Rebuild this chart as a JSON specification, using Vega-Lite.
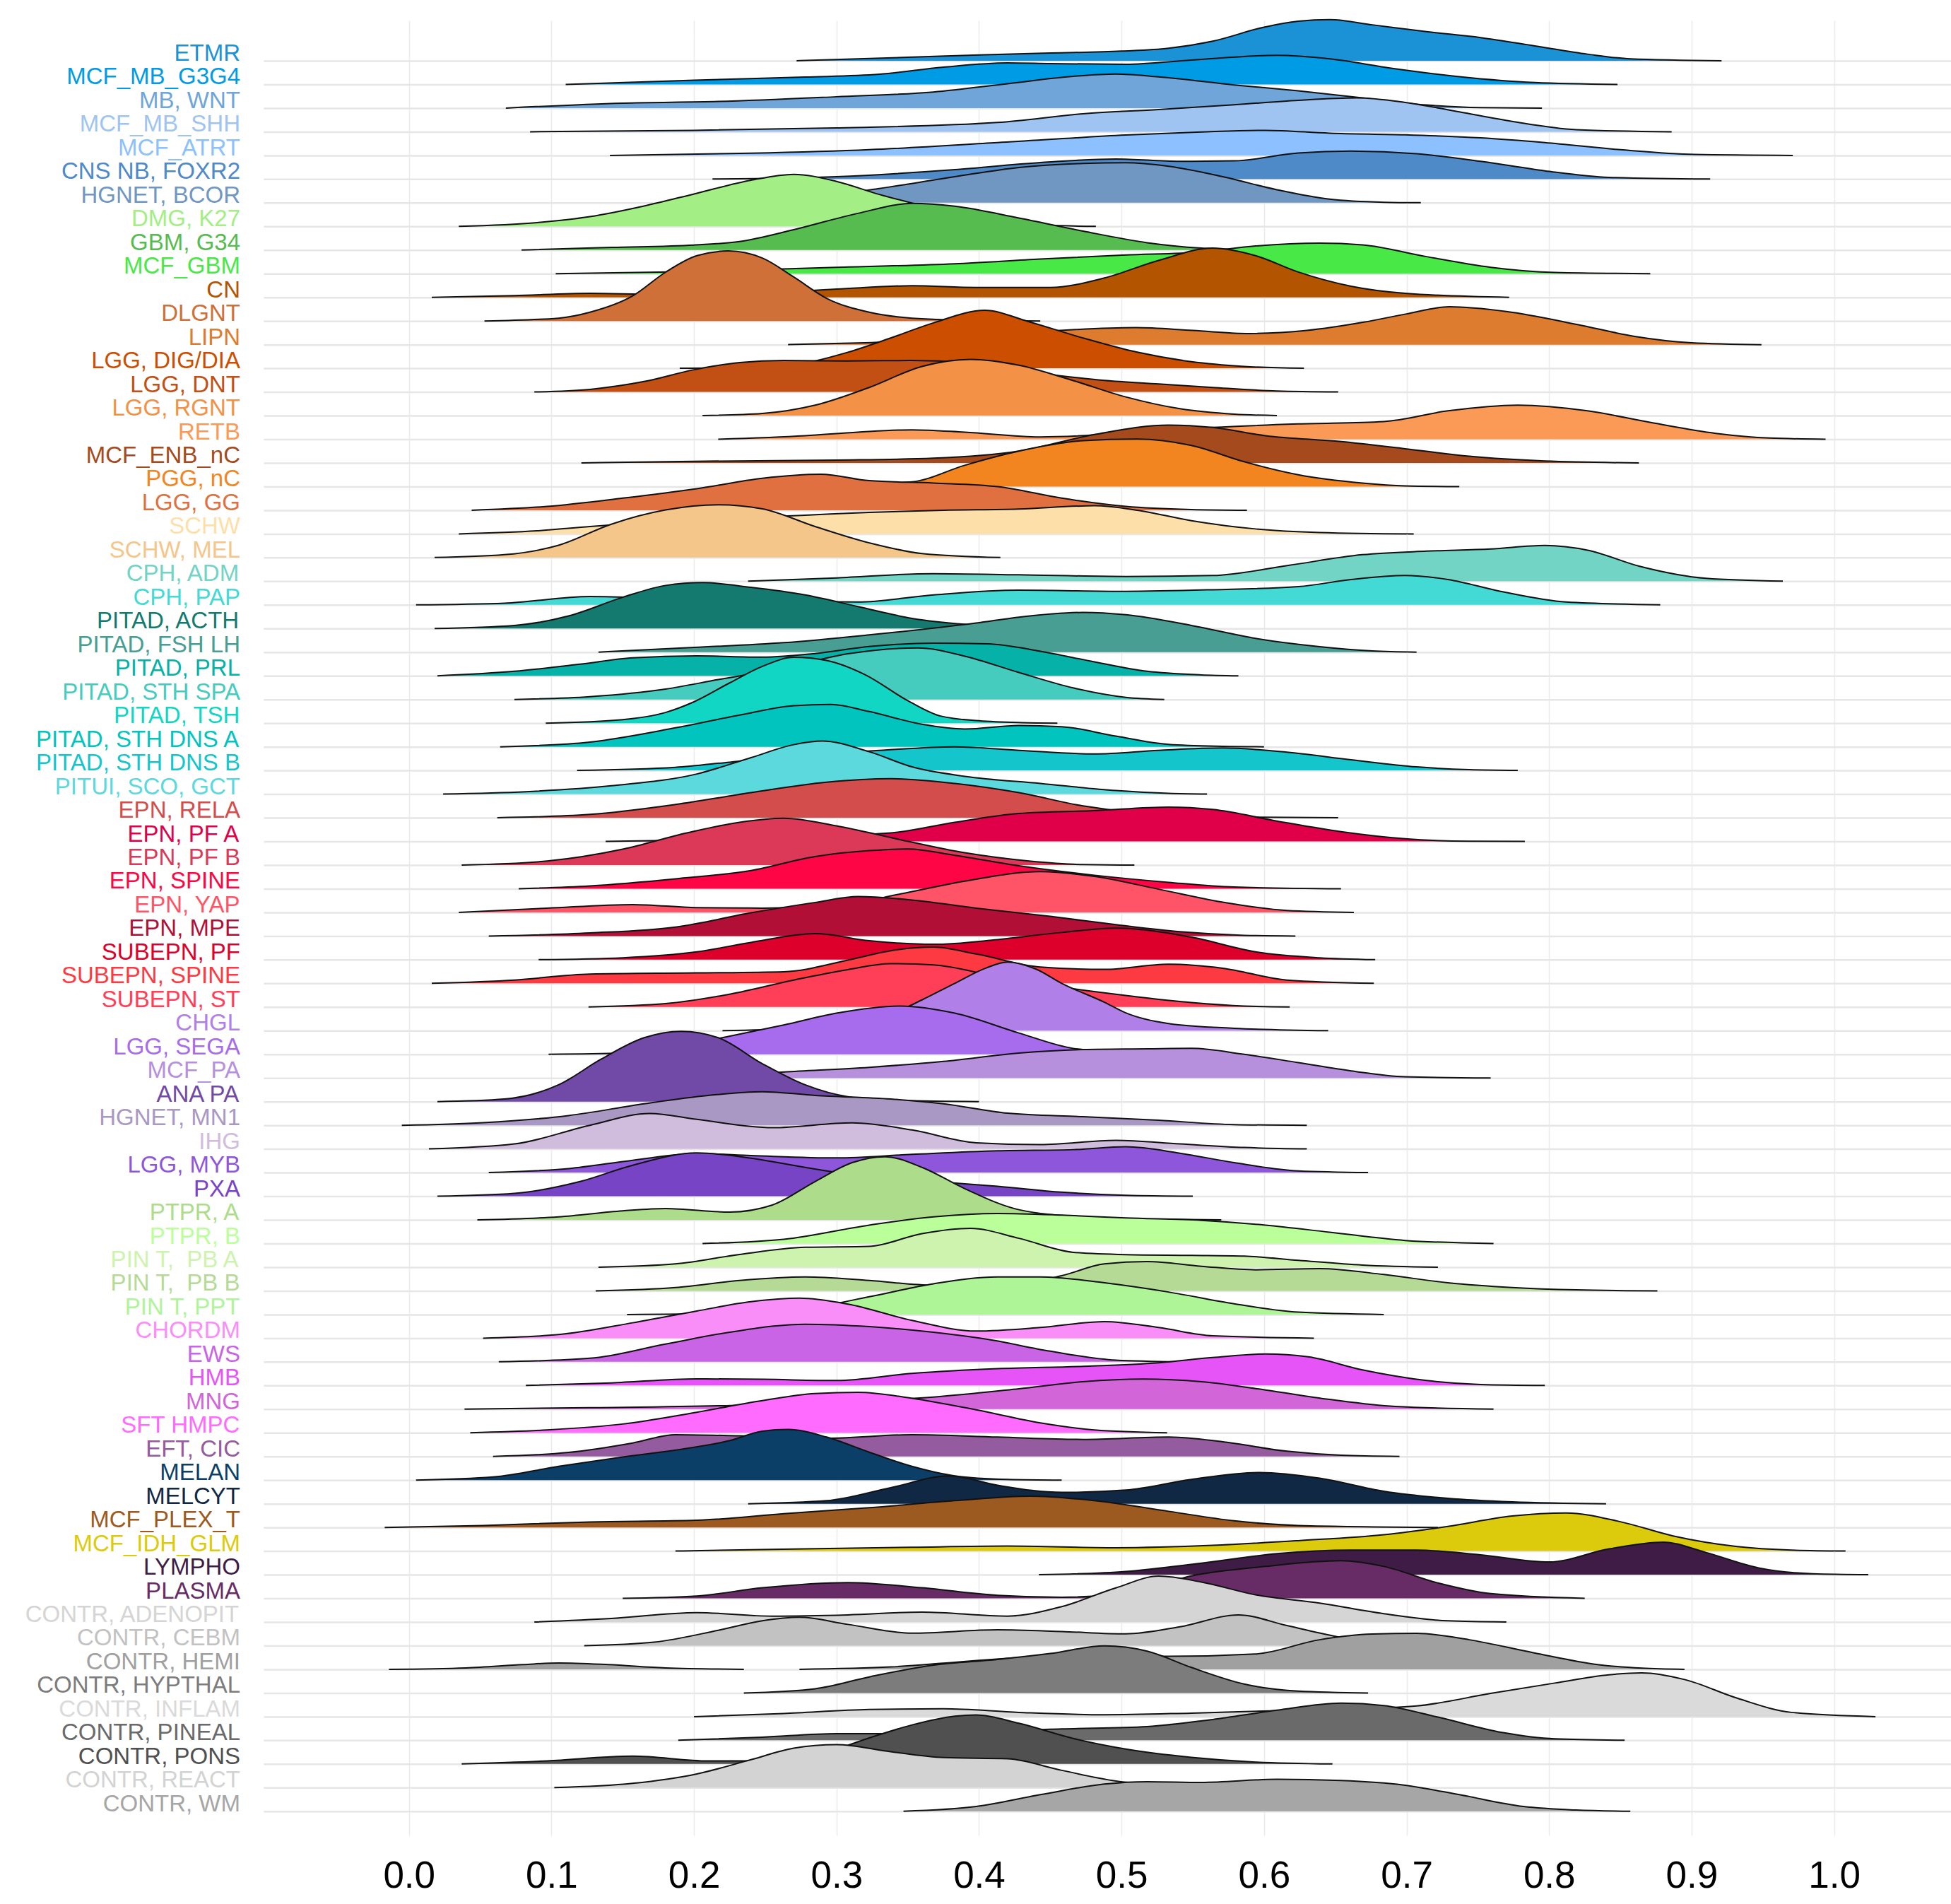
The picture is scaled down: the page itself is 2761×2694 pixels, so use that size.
{
"$schema":"https://vega.github.io/schema/vega-lite/v6.json",
"background":"white",
"padding":{"left":35,"top":26,"right":0,"bottom":0},
"autosize":{"type":"pad"},
"bounds":"flush",
"spacing":{"row":0.47,"column":0},
"data":{"values":[
{"g":"ETMR","x":0.272,"d":0},{"g":"ETMR","x":0.35,"d":0.15},{"g":"ETMR","x":0.4,"d":0.25},{"g":"ETMR","x":0.45,"d":0.33},{"g":"ETMR","x":0.5,"d":0.41},{"g":"ETMR","x":0.533,"d":0.53},{"g":"ETMR","x":0.564,"d":0.83},{"g":"ETMR","x":0.6,"d":1.42},{"g":"ETMR","x":0.624,"d":1.67},{"g":"ETMR","x":0.646,"d":1.74},{"g":"ETMR","x":0.676,"d":1.52},{"g":"ETMR","x":0.714,"d":1.23},{"g":"ETMR","x":0.752,"d":0.98},{"g":"ETMR","x":0.79,"d":0.63},{"g":"ETMR","x":0.827,"d":0.28},{"g":"ETMR","x":0.857,"d":0.08},{"g":"ETMR","x":0.921,"d":0},
{"g":"MCF_MB_G3G4","x":0.11,"d":0},{"g":"MCF_MB_G3G4","x":0.2,"d":0.18},{"g":"MCF_MB_G3G4","x":0.278,"d":0.31},{"g":"MCF_MB_G3G4","x":0.33,"d":0.43},{"g":"MCF_MB_G3G4","x":0.375,"d":0.73},{"g":"MCF_MB_G3G4","x":0.42,"d":0.91},{"g":"MCF_MB_G3G4","x":0.45,"d":0.88},{"g":"MCF_MB_G3G4","x":0.503,"d":0.85},{"g":"MCF_MB_G3G4","x":0.549,"d":1.03},{"g":"MCF_MB_G3G4","x":0.609,"d":1.23},{"g":"MCF_MB_G3G4","x":0.646,"d":1.08},{"g":"MCF_MB_G3G4","x":0.69,"d":0.68},{"g":"MCF_MB_G3G4","x":0.737,"d":0.33},{"g":"MCF_MB_G3G4","x":0.79,"d":0.08},{"g":"MCF_MB_G3G4","x":0.848,"d":0},
{"g":"MB, WNT","x":0.068,"d":0},{"g":"MB, WNT","x":0.15,"d":0.21},{"g":"MB, WNT","x":0.217,"d":0.28},{"g":"MB, WNT","x":0.3,"d":0.48},{"g":"MB, WNT","x":0.368,"d":0.68},{"g":"MB, WNT","x":0.42,"d":1.03},{"g":"MB, WNT","x":0.466,"d":1.34},{"g":"MB, WNT","x":0.496,"d":1.44},{"g":"MB, WNT","x":0.526,"d":1.32},{"g":"MB, WNT","x":0.579,"d":0.98},{"g":"MB, WNT","x":0.624,"d":0.73},{"g":"MB, WNT","x":0.669,"d":0.43},{"g":"MB, WNT","x":0.714,"d":0.13},{"g":"MB, WNT","x":0.752,"d":0.02},{"g":"MB, WNT","x":0.795,"d":0},
{"g":"MCF_MB_SHH","x":0.085,"d":0},{"g":"MCF_MB_SHH","x":0.2,"d":0.06},{"g":"MCF_MB_SHH","x":0.3,"d":0.16},{"g":"MCF_MB_SHH","x":0.413,"d":0.39},{"g":"MCF_MB_SHH","x":0.473,"d":0.76},{"g":"MCF_MB_SHH","x":0.526,"d":0.94},{"g":"MCF_MB_SHH","x":0.579,"d":1.14},{"g":"MCF_MB_SHH","x":0.624,"d":1.33},{"g":"MCF_MB_SHH","x":0.665,"d":1.43},{"g":"MCF_MB_SHH","x":0.699,"d":1.24},{"g":"MCF_MB_SHH","x":0.737,"d":0.84},{"g":"MCF_MB_SHH","x":0.774,"d":0.44},{"g":"MCF_MB_SHH","x":0.819,"d":0.09},{"g":"MCF_MB_SHH","x":0.886,"d":0},
{"g":"MCF_ATRT","x":0.141,"d":0},{"g":"MCF_ATRT","x":0.24,"d":0.09},{"g":"MCF_ATRT","x":0.323,"d":0.24},{"g":"MCF_ATRT","x":0.413,"d":0.54},{"g":"MCF_ATRT","x":0.503,"d":0.86},{"g":"MCF_ATRT","x":0.556,"d":0.99},{"g":"MCF_ATRT","x":0.601,"d":1.06},{"g":"MCF_ATRT","x":0.646,"d":0.94},{"g":"MCF_ATRT","x":0.699,"d":0.87},{"g":"MCF_ATRT","x":0.752,"d":0.74},{"g":"MCF_ATRT","x":0.797,"d":0.54},{"g":"MCF_ATRT","x":0.85,"d":0.24},{"g":"MCF_ATRT","x":0.902,"d":0.04},{"g":"MCF_ATRT","x":0.971,"d":0},
{"g":"CNS NB, FOXR2","x":0.213,"d":0},{"g":"CNS NB, FOXR2","x":0.3,"d":0.1},{"g":"CNS NB, FOXR2","x":0.383,"d":0.4},{"g":"CNS NB, FOXR2","x":0.443,"d":0.7},{"g":"CNS NB, FOXR2","x":0.496,"d":0.85},{"g":"CNS NB, FOXR2","x":0.541,"d":0.75},{"g":"CNS NB, FOXR2","x":0.579,"d":0.77},{"g":"CNS NB, FOXR2","x":0.624,"d":1.1},{"g":"CNS NB, FOXR2","x":0.661,"d":1.18},{"g":"CNS NB, FOXR2","x":0.707,"d":1.07},{"g":"CNS NB, FOXR2","x":0.752,"d":0.75},{"g":"CNS NB, FOXR2","x":0.797,"d":0.35},{"g":"CNS NB, FOXR2","x":0.842,"d":0.07},{"g":"CNS NB, FOXR2","x":0.913,"d":0},
{"g":"HGNET, BCOR","x":0.21,"d":0},{"g":"HGNET, BCOR","x":0.25,"d":0.1},{"g":"HGNET, BCOR","x":0.3,"d":0.35},{"g":"HGNET, BCOR","x":0.33,"d":0.6},{"g":"HGNET, BCOR","x":0.383,"d":1.1},{"g":"HGNET, BCOR","x":0.428,"d":1.49},{"g":"HGNET, BCOR","x":0.473,"d":1.66},{"g":"HGNET, BCOR","x":0.503,"d":1.69},{"g":"HGNET, BCOR","x":0.533,"d":1.54},{"g":"HGNET, BCOR","x":0.571,"d":1.1},{"g":"HGNET, BCOR","x":0.609,"d":0.55},{"g":"HGNET, BCOR","x":0.646,"d":0.15},{"g":"HGNET, BCOR","x":0.684,"d":0.02},{"g":"HGNET, BCOR","x":0.71,"d":0},
{"g":"DMG, K27","x":0.035,"d":0},{"g":"DMG, K27","x":0.09,"d":0.16},{"g":"DMG, K27","x":0.127,"d":0.41},{"g":"DMG, K27","x":0.165,"d":0.86},{"g":"DMG, K27","x":0.202,"d":1.4},{"g":"DMG, K27","x":0.24,"d":1.95},{"g":"DMG, K27","x":0.27,"d":2.2},{"g":"DMG, K27","x":0.3,"d":1.9},{"g":"DMG, K27","x":0.33,"d":1.35},{"g":"DMG, K27","x":0.368,"d":0.76},{"g":"DMG, K27","x":0.398,"d":0.31},{"g":"DMG, K27","x":0.428,"d":0.08},{"g":"DMG, K27","x":0.482,"d":0},
{"g":"GBM, G34","x":0.079,"d":0},{"g":"GBM, G34","x":0.142,"d":0.11},{"g":"GBM, G34","x":0.2,"d":0.21},{"g":"GBM, G34","x":0.232,"d":0.36},{"g":"GBM, G34","x":0.27,"d":0.86},{"g":"GBM, G34","x":0.315,"d":1.55},{"g":"GBM, G34","x":0.353,"d":1.97},{"g":"GBM, G34","x":0.383,"d":1.85},{"g":"GBM, G34","x":0.428,"d":1.35},{"g":"GBM, G34","x":0.473,"d":0.8},{"g":"GBM, G34","x":0.518,"d":0.31},{"g":"GBM, G34","x":0.556,"d":0.08},{"g":"GBM, G34","x":0.594,"d":0},
{"g":"MCF_GBM","x":0.103,"d":0},{"g":"MCF_GBM","x":0.2,"d":0.09},{"g":"MCF_GBM","x":0.3,"d":0.27},{"g":"MCF_GBM","x":0.383,"d":0.42},{"g":"MCF_GBM","x":0.443,"d":0.62},{"g":"MCF_GBM","x":0.503,"d":0.79},{"g":"MCF_GBM","x":0.556,"d":0.92},{"g":"MCF_GBM","x":0.594,"d":1.17},{"g":"MCF_GBM","x":0.639,"d":1.29},{"g":"MCF_GBM","x":0.669,"d":1.22},{"g":"MCF_GBM","x":0.714,"d":0.72},{"g":"MCF_GBM","x":0.759,"d":0.27},{"g":"MCF_GBM","x":0.804,"d":0.05},{"g":"MCF_GBM","x":0.871,"d":0},
{"g":"CN","x":0.016,"d":0},{"g":"CN","x":0.074,"d":0.07},{"g":"CN","x":0.127,"d":0.17},{"g":"CN","x":0.172,"d":0.13},{"g":"CN","x":0.24,"d":0.17},{"g":"CN","x":0.3,"d":0.35},{"g":"CN","x":0.353,"d":0.49},{"g":"CN","x":0.398,"d":0.42},{"g":"CN","x":0.45,"d":0.42},{"g":"CN","x":0.488,"d":0.82},{"g":"CN","x":0.526,"d":1.56},{"g":"CN","x":0.564,"d":2.08},{"g":"CN","x":0.594,"d":1.76},{"g":"CN","x":0.624,"d":1.07},{"g":"CN","x":0.661,"d":0.47},{"g":"CN","x":0.699,"d":0.17},{"g":"CN","x":0.772,"d":0},
{"g":"DLGNT","x":0.053,"d":0},{"g":"DLGNT","x":0.105,"d":0.12},{"g":"DLGNT","x":0.127,"d":0.37},{"g":"DLGNT","x":0.157,"d":1.06},{"g":"DLGNT","x":0.18,"d":2.06},{"g":"DLGNT","x":0.202,"d":2.76},{"g":"DLGNT","x":0.224,"d":2.96},{"g":"DLGNT","x":0.248,"d":2.66},{"g":"DLGNT","x":0.27,"d":1.86},{"g":"DLGNT","x":0.293,"d":0.96},{"g":"DLGNT","x":0.323,"d":0.37},{"g":"DLGNT","x":0.353,"d":0.12},{"g":"DLGNT","x":0.4,"d":0.02},{"g":"DLGNT","x":0.443,"d":0},
{"g":"LIPN","x":0.266,"d":0},{"g":"LIPN","x":0.32,"d":0.08},{"g":"LIPN","x":0.37,"d":0.2},{"g":"LIPN","x":0.43,"d":0.5},{"g":"LIPN","x":0.51,"d":0.72},{"g":"LIPN","x":0.55,"d":0.6},{"g":"LIPN","x":0.59,"d":0.47},{"g":"LIPN","x":0.63,"d":0.6},{"g":"LIPN","x":0.67,"d":0.95},{"g":"LIPN","x":0.7,"d":1.3},{"g":"LIPN","x":0.73,"d":1.6},{"g":"LIPN","x":0.77,"d":1.4},{"g":"LIPN","x":0.82,"d":0.85},{"g":"LIPN","x":0.86,"d":0.35},{"g":"LIPN","x":0.9,"d":0.08},{"g":"LIPN","x":0.949,"d":0},
{"g":"LGG, DIG/DIA","x":0.19,"d":0},{"g":"LGG, DIG/DIA","x":0.24,"d":0.05},{"g":"LGG, DIG/DIA","x":0.278,"d":0.23},{"g":"LGG, DIG/DIA","x":0.308,"d":0.68},{"g":"LGG, DIG/DIA","x":0.338,"d":1.28},{"g":"LGG, DIG/DIA","x":0.368,"d":1.92},{"g":"LGG, DIG/DIA","x":0.404,"d":2.45},{"g":"LGG, DIG/DIA","x":0.435,"d":1.97},{"g":"LGG, DIG/DIA","x":0.473,"d":1.28},{"g":"LGG, DIG/DIA","x":0.511,"d":0.68},{"g":"LGG, DIG/DIA","x":0.549,"d":0.28},{"g":"LGG, DIG/DIA","x":0.586,"d":0.08},{"g":"LGG, DIG/DIA","x":0.628,"d":0},
{"g":"LGG, DNT","x":0.088,"d":0},{"g":"LGG, DNT","x":0.127,"d":0.11},{"g":"LGG, DNT","x":0.165,"d":0.44},{"g":"LGG, DNT","x":0.2,"d":0.94},{"g":"LGG, DNT","x":0.232,"d":1.24},{"g":"LGG, DNT","x":0.263,"d":1.33},{"g":"LGG, DNT","x":0.308,"d":1.31},{"g":"LGG, DNT","x":0.353,"d":1.33},{"g":"LGG, DNT","x":0.39,"d":1.24},{"g":"LGG, DNT","x":0.443,"d":0.79},{"g":"LGG, DNT","x":0.488,"d":0.49},{"g":"LGG, DNT","x":0.526,"d":0.34},{"g":"LGG, DNT","x":0.564,"d":0.19},{"g":"LGG, DNT","x":0.609,"d":0.04},{"g":"LGG, DNT","x":0.652,"d":0},
{"g":"LGG, RGNT","x":0.206,"d":0},{"g":"LGG, RGNT","x":0.248,"d":0.09},{"g":"LGG, RGNT","x":0.285,"d":0.44},{"g":"LGG, RGNT","x":0.323,"d":1.19},{"g":"LGG, RGNT","x":0.36,"d":2.08},{"g":"LGG, RGNT","x":0.394,"d":2.38},{"g":"LGG, RGNT","x":0.428,"d":2.13},{"g":"LGG, RGNT","x":0.466,"d":1.48},{"g":"LGG, RGNT","x":0.503,"d":0.79},{"g":"LGG, RGNT","x":0.541,"d":0.29},{"g":"LGG, RGNT","x":0.579,"d":0.06},{"g":"LGG, RGNT","x":0.609,"d":0},
{"g":"RETB","x":0.217,"d":0},{"g":"RETB","x":0.278,"d":0.15},{"g":"RETB","x":0.315,"d":0.3},{"g":"RETB","x":0.353,"d":0.4},{"g":"RETB","x":0.39,"d":0.3},{"g":"RETB","x":0.443,"d":0.1},{"g":"RETB","x":0.503,"d":0.25},{"g":"RETB","x":0.564,"d":0.5},{"g":"RETB","x":0.624,"d":0.65},{"g":"RETB","x":0.684,"d":0.75},{"g":"RETB","x":0.729,"d":1.2},{"g":"RETB","x":0.778,"d":1.44},{"g":"RETB","x":0.827,"d":1.2},{"g":"RETB","x":0.872,"d":0.7},{"g":"RETB","x":0.917,"d":0.25},{"g":"RETB","x":0.955,"d":0.05},{"g":"RETB","x":0.994,"d":0},
{"g":"MCF_ENB_nC","x":0.121,"d":0},{"g":"MCF_ENB_nC","x":0.2,"d":0.07},{"g":"MCF_ENB_nC","x":0.3,"d":0.12},{"g":"MCF_ENB_nC","x":0.368,"d":0.2},{"g":"MCF_ENB_nC","x":0.428,"d":0.5},{"g":"MCF_ENB_nC","x":0.481,"d":1.2},{"g":"MCF_ENB_nC","x":0.533,"d":1.6},{"g":"MCF_ENB_nC","x":0.564,"d":1.5},{"g":"MCF_ENB_nC","x":0.601,"d":1.15},{"g":"MCF_ENB_nC","x":0.654,"d":0.9},{"g":"MCF_ENB_nC","x":0.699,"d":0.6},{"g":"MCF_ENB_nC","x":0.744,"d":0.28},{"g":"MCF_ENB_nC","x":0.797,"d":0.08},{"g":"MCF_ENB_nC","x":0.863,"d":0},
{"g":"PGG, nC","x":0.25,"d":0},{"g":"PGG, nC","x":0.3,"d":0.05},{"g":"PGG, nC","x":0.353,"d":0.2},{"g":"PGG, nC","x":0.39,"d":0.9},{"g":"PGG, nC","x":0.428,"d":1.5},{"g":"PGG, nC","x":0.473,"d":1.94},{"g":"PGG, nC","x":0.511,"d":2.01},{"g":"PGG, nC","x":0.549,"d":1.74},{"g":"PGG, nC","x":0.586,"d":1.05},{"g":"PGG, nC","x":0.624,"d":0.5},{"g":"PGG, nC","x":0.669,"d":0.15},{"g":"PGG, nC","x":0.699,"d":0.03},{"g":"PGG, nC","x":0.737,"d":0},
{"g":"LGG, GG","x":0.044,"d":0},{"g":"LGG, GG","x":0.097,"d":0.16},{"g":"LGG, GG","x":0.15,"d":0.51},{"g":"LGG, GG","x":0.202,"d":0.91},{"g":"LGG, GG","x":0.248,"d":1.35},{"g":"LGG, GG","x":0.289,"d":1.52},{"g":"LGG, GG","x":0.323,"d":1.25},{"g":"LGG, GG","x":0.368,"d":1.15},{"g":"LGG, GG","x":0.413,"d":1.0},{"g":"LGG, GG","x":0.458,"d":0.51},{"g":"LGG, GG","x":0.503,"d":0.16},{"g":"LGG, GG","x":0.549,"d":0.03},{"g":"LGG, GG","x":0.588,"d":0},
{"g":"SCHW","x":0.035,"d":0},{"g":"SCHW","x":0.09,"d":0.13},{"g":"SCHW","x":0.127,"d":0.31},{"g":"SCHW","x":0.2,"d":0.6},{"g":"SCHW","x":0.278,"d":0.79},{"g":"SCHW","x":0.323,"d":0.91},{"g":"SCHW","x":0.375,"d":1.0},{"g":"SCHW","x":0.428,"d":1.05},{"g":"SCHW","x":0.481,"d":1.19},{"g":"SCHW","x":0.511,"d":1.0},{"g":"SCHW","x":0.549,"d":0.56},{"g":"SCHW","x":0.594,"d":0.21},{"g":"SCHW","x":0.639,"d":0.06},{"g":"SCHW","x":0.705,"d":0},
{"g":"SCHW, MEL","x":0.018,"d":0},{"g":"SCHW, MEL","x":0.067,"d":0.12},{"g":"SCHW, MEL","x":0.105,"d":0.52},{"g":"SCHW, MEL","x":0.142,"d":1.41},{"g":"SCHW, MEL","x":0.18,"d":2.01},{"g":"SCHW, MEL","x":0.217,"d":2.23},{"g":"SCHW, MEL","x":0.248,"d":2.06},{"g":"SCHW, MEL","x":0.285,"d":1.31},{"g":"SCHW, MEL","x":0.323,"d":0.62},{"g":"SCHW, MEL","x":0.36,"d":0.17},{"g":"SCHW, MEL","x":0.415,"d":0},
{"g":"CPH, ADM","x":0.238,"d":0},{"g":"CPH, ADM","x":0.3,"d":0.14},{"g":"CPH, ADM","x":0.368,"d":0.32},{"g":"CPH, ADM","x":0.428,"d":0.27},{"g":"CPH, ADM","x":0.503,"d":0.2},{"g":"CPH, ADM","x":0.564,"d":0.24},{"g":"CPH, ADM","x":0.617,"d":0.67},{"g":"CPH, ADM","x":0.669,"d":1.12},{"g":"CPH, ADM","x":0.714,"d":1.27},{"g":"CPH, ADM","x":0.759,"d":1.36},{"g":"CPH, ADM","x":0.797,"d":1.51},{"g":"CPH, ADM","x":0.827,"d":1.31},{"g":"CPH, ADM","x":0.864,"d":0.62},{"g":"CPH, ADM","x":0.91,"d":0.12},{"g":"CPH, ADM","x":0.964,"d":0},
{"g":"CPH, PAP","x":0.005,"d":0},{"g":"CPH, PAP","x":0.067,"d":0.07},{"g":"CPH, PAP","x":0.127,"d":0.35},{"g":"CPH, PAP","x":0.18,"d":0.27},{"g":"CPH, PAP","x":0.24,"d":0.17},{"g":"CPH, PAP","x":0.315,"d":0.12},{"g":"CPH, PAP","x":0.368,"d":0.42},{"g":"CPH, PAP","x":0.428,"d":0.62},{"g":"CPH, PAP","x":0.503,"d":0.57},{"g":"CPH, PAP","x":0.564,"d":0.64},{"g":"CPH, PAP","x":0.624,"d":0.77},{"g":"CPH, PAP","x":0.661,"d":1.07},{"g":"CPH, PAP","x":0.699,"d":1.24},{"g":"CPH, PAP","x":0.729,"d":1.07},{"g":"CPH, PAP","x":0.766,"d":0.57},{"g":"CPH, PAP","x":0.812,"d":0.12},{"g":"CPH, PAP","x":0.878,"d":0},
{"g":"PITAD, ACTH","x":0.018,"d":0},{"g":"PITAD, ACTH","x":0.074,"d":0.13},{"g":"PITAD, ACTH","x":0.112,"d":0.53},{"g":"PITAD, ACTH","x":0.15,"d":1.32},{"g":"PITAD, ACTH","x":0.18,"d":1.82},{"g":"PITAD, ACTH","x":0.206,"d":1.94},{"g":"PITAD, ACTH","x":0.24,"d":1.74},{"g":"PITAD, ACTH","x":0.278,"d":1.42},{"g":"PITAD, ACTH","x":0.315,"d":0.93},{"g":"PITAD, ACTH","x":0.353,"d":0.43},{"g":"PITAD, ACTH","x":0.39,"d":0.18},{"g":"PITAD, ACTH","x":0.43,"d":0.08},{"g":"PITAD, ACTH","x":0.5,"d":0.02},{"g":"PITAD, ACTH","x":0.56,"d":0},
{"g":"PITAD, FSH LH","x":0.133,"d":0},{"g":"PITAD, FSH LH","x":0.2,"d":0.2},{"g":"PITAD, FSH LH","x":0.263,"d":0.4},{"g":"PITAD, FSH LH","x":0.323,"d":0.73},{"g":"PITAD, FSH LH","x":0.398,"d":1.23},{"g":"PITAD, FSH LH","x":0.428,"d":1.48},{"g":"PITAD, FSH LH","x":0.473,"d":1.68},{"g":"PITAD, FSH LH","x":0.503,"d":1.58},{"g":"PITAD, FSH LH","x":0.549,"d":1.13},{"g":"PITAD, FSH LH","x":0.594,"d":0.58},{"g":"PITAD, FSH LH","x":0.639,"d":0.23},{"g":"PITAD, FSH LH","x":0.676,"d":0.05},{"g":"PITAD, FSH LH","x":0.707,"d":0},
{"g":"PITAD, PRL","x":0.02,"d":0},{"g":"PITAD, PRL","x":0.074,"d":0.19},{"g":"PITAD, PRL","x":0.12,"d":0.49},{"g":"PITAD, PRL","x":0.157,"d":0.76},{"g":"PITAD, PRL","x":0.202,"d":0.84},{"g":"PITAD, PRL","x":0.248,"d":0.79},{"g":"PITAD, PRL","x":0.285,"d":0.94},{"g":"PITAD, PRL","x":0.323,"d":1.24},{"g":"PITAD, PRL","x":0.368,"d":1.38},{"g":"PITAD, PRL","x":0.406,"d":1.35},{"g":"PITAD, PRL","x":0.443,"d":1.04},{"g":"PITAD, PRL","x":0.481,"d":0.59},{"g":"PITAD, PRL","x":0.518,"d":0.19},{"g":"PITAD, PRL","x":0.556,"d":0.04},{"g":"PITAD, PRL","x":0.582,"d":0},
{"g":"PITAD, STH SPA","x":0.074,"d":0},{"g":"PITAD, STH SPA","x":0.127,"d":0.12},{"g":"PITAD, STH SPA","x":0.18,"d":0.44},{"g":"PITAD, STH SPA","x":0.217,"d":0.84},{"g":"PITAD, STH SPA","x":0.263,"d":1.33},{"g":"PITAD, STH SPA","x":0.308,"d":1.93},{"g":"PITAD, STH SPA","x":0.357,"d":2.18},{"g":"PITAD, STH SPA","x":0.39,"d":1.83},{"g":"PITAD, STH SPA","x":0.428,"d":1.14},{"g":"PITAD, STH SPA","x":0.466,"d":0.49},{"g":"PITAD, STH SPA","x":0.503,"d":0.09},{"g":"PITAD, STH SPA","x":0.53,"d":0},
{"g":"PITAD, TSH","x":0.096,"d":0},{"g":"PITAD, TSH","x":0.15,"d":0.15},{"g":"PITAD, TSH","x":0.18,"d":0.45},{"g":"PITAD, TSH","x":0.2,"d":0.9},{"g":"PITAD, TSH","x":0.225,"d":1.7},{"g":"PITAD, TSH","x":0.248,"d":2.4},{"g":"PITAD, TSH","x":0.27,"d":2.78},{"g":"PITAD, TSH","x":0.293,"d":2.65},{"g":"PITAD, TSH","x":0.32,"d":2.05},{"g":"PITAD, TSH","x":0.35,"d":0.95},{"g":"PITAD, TSH","x":0.373,"d":0.3},{"g":"PITAD, TSH","x":0.4,"d":0.1},{"g":"PITAD, TSH","x":0.43,"d":0.02},{"g":"PITAD, TSH","x":0.455,"d":0},
{"g":"PITAD, STH DNS A","x":0.064,"d":0},{"g":"PITAD, STH DNS A","x":0.127,"d":0.2},{"g":"PITAD, STH DNS A","x":0.187,"d":0.8},{"g":"PITAD, STH DNS A","x":0.232,"d":1.34},{"g":"PITAD, STH DNS A","x":0.27,"d":1.74},{"g":"PITAD, STH DNS A","x":0.296,"d":1.79},{"g":"PITAD, STH DNS A","x":0.323,"d":1.49},{"g":"PITAD, STH DNS A","x":0.36,"d":0.95},{"g":"PITAD, STH DNS A","x":0.39,"d":0.75},{"g":"PITAD, STH DNS A","x":0.428,"d":0.9},{"g":"PITAD, STH DNS A","x":0.458,"d":0.85},{"g":"PITAD, STH DNS A","x":0.496,"d":0.45},{"g":"PITAD, STH DNS A","x":0.533,"d":0.1},{"g":"PITAD, STH DNS A","x":0.571,"d":0.02},{"g":"PITAD, STH DNS A","x":0.6,"d":0},
{"g":"PITAD, STH DNS B","x":0.118,"d":0},{"g":"PITAD, STH DNS B","x":0.187,"d":0.13},{"g":"PITAD, STH DNS B","x":0.225,"d":0.35},{"g":"PITAD, STH DNS B","x":0.278,"d":0.65},{"g":"PITAD, STH DNS B","x":0.33,"d":0.85},{"g":"PITAD, STH DNS B","x":0.383,"d":1.0},{"g":"PITAD, STH DNS B","x":0.428,"d":0.85},{"g":"PITAD, STH DNS B","x":0.481,"d":0.7},{"g":"PITAD, STH DNS B","x":0.526,"d":0.85},{"g":"PITAD, STH DNS B","x":0.571,"d":0.95},{"g":"PITAD, STH DNS B","x":0.616,"d":0.77},{"g":"PITAD, STH DNS B","x":0.661,"d":0.45},{"g":"PITAD, STH DNS B","x":0.707,"d":0.15},{"g":"PITAD, STH DNS B","x":0.744,"d":0.03},{"g":"PITAD, STH DNS B","x":0.778,"d":0},
{"g":"PITUI, SCO, GCT","x":0.024,"d":0},{"g":"PITUI, SCO, GCT","x":0.082,"d":0.1},{"g":"PITUI, SCO, GCT","x":0.142,"d":0.35},{"g":"PITUI, SCO, GCT","x":0.202,"d":0.85},{"g":"PITUI, SCO, GCT","x":0.24,"d":1.54},{"g":"PITUI, SCO, GCT","x":0.27,"d":2.09},{"g":"PITUI, SCO, GCT","x":0.29,"d":2.24},{"g":"PITUI, SCO, GCT","x":0.323,"d":1.79},{"g":"PITUI, SCO, GCT","x":0.353,"d":1.15},{"g":"PITUI, SCO, GCT","x":0.39,"d":0.75},{"g":"PITUI, SCO, GCT","x":0.443,"d":0.45},{"g":"PITUI, SCO, GCT","x":0.496,"d":0.15},{"g":"PITUI, SCO, GCT","x":0.533,"d":0.03},{"g":"PITUI, SCO, GCT","x":0.56,"d":0},
{"g":"EPN, RELA","x":0.062,"d":0},{"g":"EPN, RELA","x":0.127,"d":0.14},{"g":"EPN, RELA","x":0.187,"d":0.56},{"g":"EPN, RELA","x":0.24,"d":1.06},{"g":"EPN, RELA","x":0.293,"d":1.5},{"g":"EPN, RELA","x":0.338,"d":1.65},{"g":"EPN, RELA","x":0.383,"d":1.45},{"g":"EPN, RELA","x":0.428,"d":1.06},{"g":"EPN, RELA","x":0.473,"d":0.5},{"g":"EPN, RELA","x":0.518,"d":0.16},{"g":"EPN, RELA","x":0.564,"d":0.04},{"g":"EPN, RELA","x":0.652,"d":0},
{"g":"EPN, PF A","x":0.138,"d":0},{"g":"EPN, PF A","x":0.202,"d":0.06},{"g":"EPN, PF A","x":0.278,"d":0.21},{"g":"EPN, PF A","x":0.338,"d":0.36},{"g":"EPN, PF A","x":0.383,"d":0.81},{"g":"EPN, PF A","x":0.428,"d":1.18},{"g":"EPN, PF A","x":0.481,"d":1.3},{"g":"EPN, PF A","x":0.533,"d":1.45},{"g":"EPN, PF A","x":0.564,"d":1.35},{"g":"EPN, PF A","x":0.609,"d":0.86},{"g":"EPN, PF A","x":0.654,"d":0.41},{"g":"EPN, PF A","x":0.699,"d":0.11},{"g":"EPN, PF A","x":0.744,"d":0.01},{"g":"EPN, PF A","x":0.783,"d":0},
{"g":"EPN, PF B","x":0.037,"d":0},{"g":"EPN, PF B","x":0.097,"d":0.17},{"g":"EPN, PF B","x":0.15,"d":0.67},{"g":"EPN, PF B","x":0.195,"d":1.36},{"g":"EPN, PF B","x":0.232,"d":1.81},{"g":"EPN, PF B","x":0.263,"d":1.98},{"g":"EPN, PF B","x":0.3,"d":1.66},{"g":"EPN, PF B","x":0.345,"d":1.07},{"g":"EPN, PF B","x":0.39,"d":0.52},{"g":"EPN, PF B","x":0.435,"d":0.17},{"g":"EPN, PF B","x":0.473,"d":0.02},{"g":"EPN, PF B","x":0.509,"d":0},
{"g":"EPN, SPINE","x":0.077,"d":0},{"g":"EPN, SPINE","x":0.127,"d":0.12},{"g":"EPN, SPINE","x":0.187,"d":0.42},{"g":"EPN, SPINE","x":0.24,"d":0.77},{"g":"EPN, SPINE","x":0.285,"d":1.36},{"g":"EPN, SPINE","x":0.323,"d":1.61},{"g":"EPN, SPINE","x":0.35,"d":1.68},{"g":"EPN, SPINE","x":0.383,"d":1.41},{"g":"EPN, SPINE","x":0.428,"d":0.97},{"g":"EPN, SPINE","x":0.481,"d":0.57},{"g":"EPN, SPINE","x":0.533,"d":0.27},{"g":"EPN, SPINE","x":0.579,"d":0.07},{"g":"EPN, SPINE","x":0.654,"d":0},
{"g":"EPN, YAP","x":0.035,"d":0},{"g":"EPN, YAP","x":0.097,"d":0.18},{"g":"EPN, YAP","x":0.157,"d":0.33},{"g":"EPN, YAP","x":0.202,"d":0.2},{"g":"EPN, YAP","x":0.248,"d":0.18},{"g":"EPN, YAP","x":0.3,"d":0.28},{"g":"EPN, YAP","x":0.345,"d":0.78},{"g":"EPN, YAP","x":0.39,"d":1.32},{"g":"EPN, YAP","x":0.443,"d":1.72},{"g":"EPN, YAP","x":0.481,"d":1.52},{"g":"EPN, YAP","x":0.526,"d":0.98},{"g":"EPN, YAP","x":0.571,"d":0.43},{"g":"EPN, YAP","x":0.616,"d":0.08},{"g":"EPN, YAP","x":0.663,"d":0},
{"g":"EPN, MPE","x":0.056,"d":0},{"g":"EPN, MPE","x":0.127,"d":0.13},{"g":"EPN, MPE","x":0.187,"d":0.38},{"g":"EPN, MPE","x":0.24,"d":0.98},{"g":"EPN, MPE","x":0.285,"d":1.42},{"g":"EPN, MPE","x":0.315,"d":1.67},{"g":"EPN, MPE","x":0.353,"d":1.52},{"g":"EPN, MPE","x":0.398,"d":1.18},{"g":"EPN, MPE","x":0.45,"d":0.83},{"g":"EPN, MPE","x":0.496,"d":0.48},{"g":"EPN, MPE","x":0.541,"d":0.18},{"g":"EPN, MPE","x":0.586,"d":0.03},{"g":"EPN, MPE","x":0.622,"d":0},
{"g":"SUBEPN, PF","x":0.091,"d":0},{"g":"SUBEPN, PF","x":0.15,"d":0.08},{"g":"SUBEPN, PF","x":0.202,"d":0.33},{"g":"SUBEPN, PF","x":0.24,"d":0.73},{"g":"SUBEPN, PF","x":0.285,"d":1.1},{"g":"SUBEPN, PF","x":0.323,"d":0.8},{"g":"SUBEPN, PF","x":0.368,"d":0.65},{"g":"SUBEPN, PF","x":0.413,"d":0.85},{"g":"SUBEPN, PF","x":0.458,"d":1.15},{"g":"SUBEPN, PF","x":0.496,"d":1.33},{"g":"SUBEPN, PF","x":0.549,"d":0.95},{"g":"SUBEPN, PF","x":0.594,"d":0.33},{"g":"SUBEPN, PF","x":0.639,"d":0.08},{"g":"SUBEPN, PF","x":0.678,"d":0},
{"g":"SUBEPN, SPINE","x":0.016,"d":0},{"g":"SUBEPN, SPINE","x":0.074,"d":0.14},{"g":"SUBEPN, SPINE","x":0.127,"d":0.39},{"g":"SUBEPN, SPINE","x":0.202,"d":0.44},{"g":"SUBEPN, SPINE","x":0.263,"d":0.49},{"g":"SUBEPN, SPINE","x":0.308,"d":0.98},{"g":"SUBEPN, SPINE","x":0.338,"d":1.38},{"g":"SUBEPN, SPINE","x":0.368,"d":1.53},{"g":"SUBEPN, SPINE","x":0.398,"d":1.24},{"g":"SUBEPN, SPINE","x":0.443,"d":0.69},{"g":"SUBEPN, SPINE","x":0.488,"d":0.59},{"g":"SUBEPN, SPINE","x":0.533,"d":0.81},{"g":"SUBEPN, SPINE","x":0.571,"d":0.64},{"g":"SUBEPN, SPINE","x":0.616,"d":0.14},{"g":"SUBEPN, SPINE","x":0.677,"d":0},
{"g":"SUBEPN, ST","x":0.126,"d":0},{"g":"SUBEPN, ST","x":0.18,"d":0.14},{"g":"SUBEPN, ST","x":0.225,"d":0.54},{"g":"SUBEPN, ST","x":0.27,"d":1.14},{"g":"SUBEPN, ST","x":0.308,"d":1.58},{"g":"SUBEPN, ST","x":0.338,"d":1.83},{"g":"SUBEPN, ST","x":0.368,"d":1.78},{"g":"SUBEPN, ST","x":0.413,"d":1.28},{"g":"SUBEPN, ST","x":0.458,"d":0.84},{"g":"SUBEPN, ST","x":0.503,"d":0.49},{"g":"SUBEPN, ST","x":0.549,"d":0.19},{"g":"SUBEPN, ST","x":0.586,"d":0.04},{"g":"SUBEPN, ST","x":0.618,"d":0},
{"g":"CHGL","x":0.22,"d":0},{"g":"CHGL","x":0.27,"d":0.1},{"g":"CHGL","x":0.31,"d":0.35},{"g":"CHGL","x":0.34,"d":0.75},{"g":"CHGL","x":0.36,"d":1.3},{"g":"CHGL","x":0.383,"d":2.0},{"g":"CHGL","x":0.405,"d":2.65},{"g":"CHGL","x":0.42,"d":2.9},{"g":"CHGL","x":0.44,"d":2.6},{"g":"CHGL","x":0.458,"d":2.0},{"g":"CHGL","x":0.488,"d":1.2},{"g":"CHGL","x":0.503,"d":0.75},{"g":"CHGL","x":0.533,"d":0.3},{"g":"CHGL","x":0.579,"d":0.1},{"g":"CHGL","x":0.645,"d":0},
{"g":"LGG, SEGA","x":0.098,"d":0},{"g":"LGG, SEGA","x":0.15,"d":0.05},{"g":"LGG, SEGA","x":0.187,"d":0.3},{"g":"LGG, SEGA","x":0.22,"d":0.7},{"g":"LGG, SEGA","x":0.263,"d":1.24},{"g":"LGG, SEGA","x":0.3,"d":1.74},{"g":"LGG, SEGA","x":0.345,"d":2.04},{"g":"LGG, SEGA","x":0.383,"d":1.74},{"g":"LGG, SEGA","x":0.428,"d":0.9},{"g":"LGG, SEGA","x":0.466,"d":0.25},{"g":"LGG, SEGA","x":0.503,"d":0.08},{"g":"LGG, SEGA","x":0.55,"d":0},
{"g":"MCF_PA","x":0.2,"d":0},{"g":"MCF_PA","x":0.263,"d":0.25},{"g":"MCF_PA","x":0.323,"d":0.45},{"g":"MCF_PA","x":0.375,"d":0.7},{"g":"MCF_PA","x":0.428,"d":1.05},{"g":"MCF_PA","x":0.473,"d":1.2},{"g":"MCF_PA","x":0.518,"d":1.23},{"g":"MCF_PA","x":0.549,"d":1.25},{"g":"MCF_PA","x":0.586,"d":1.0},{"g":"MCF_PA","x":0.624,"d":0.65},{"g":"MCF_PA","x":0.661,"d":0.3},{"g":"MCF_PA","x":0.699,"d":0.05},{"g":"MCF_PA","x":0.759,"d":0},
{"g":"ANA PA","x":0.02,"d":0},{"g":"ANA PA","x":0.067,"d":0.11},{"g":"ANA PA","x":0.105,"d":0.71},{"g":"ANA PA","x":0.135,"d":1.8},{"g":"ANA PA","x":0.165,"d":2.7},{"g":"ANA PA","x":0.191,"d":2.97},{"g":"ANA PA","x":0.217,"d":2.7},{"g":"ANA PA","x":0.248,"d":1.6},{"g":"ANA PA","x":0.278,"d":0.71},{"g":"ANA PA","x":0.308,"d":0.21},{"g":"ANA PA","x":0.345,"d":0.05},{"g":"ANA PA","x":0.4,"d":0},
{"g":"HGNET, MN1","x":-0.005,"d":0},{"g":"HGNET, MN1","x":0.052,"d":0.11},{"g":"HGNET, MN1","x":0.112,"d":0.41},{"g":"HGNET, MN1","x":0.165,"d":0.91},{"g":"HGNET, MN1","x":0.21,"d":1.26},{"g":"HGNET, MN1","x":0.248,"d":1.42},{"g":"HGNET, MN1","x":0.285,"d":1.26},{"g":"HGNET, MN1","x":0.338,"d":1.11},{"g":"HGNET, MN1","x":0.375,"d":0.91},{"g":"HGNET, MN1","x":0.42,"d":0.51},{"g":"HGNET, MN1","x":0.473,"d":0.36},{"g":"HGNET, MN1","x":0.526,"d":0.21},{"g":"HGNET, MN1","x":0.579,"d":0.03},{"g":"HGNET, MN1","x":0.63,"d":0},
{"g":"IHG","x":0.014,"d":0},{"g":"IHG","x":0.074,"d":0.21},{"g":"IHG","x":0.127,"d":1.0},{"g":"IHG","x":0.169,"d":1.5},{"g":"IHG","x":0.202,"d":1.25},{"g":"IHG","x":0.255,"d":0.9},{"g":"IHG","x":0.311,"d":1.1},{"g":"IHG","x":0.353,"d":0.8},{"g":"IHG","x":0.398,"d":0.26},{"g":"IHG","x":0.443,"d":0.18},{"g":"IHG","x":0.496,"d":0.36},{"g":"IHG","x":0.541,"d":0.21},{"g":"IHG","x":0.586,"d":0.06},{"g":"IHG","x":0.63,"d":0},
{"g":"LGG, MYB","x":0.056,"d":0},{"g":"LGG, MYB","x":0.112,"d":0.17},{"g":"LGG, MYB","x":0.157,"d":0.52},{"g":"LGG, MYB","x":0.202,"d":0.8},{"g":"LGG, MYB","x":0.24,"d":0.72},{"g":"LGG, MYB","x":0.3,"d":0.62},{"g":"LGG, MYB","x":0.353,"d":0.77},{"g":"LGG, MYB","x":0.413,"d":0.92},{"g":"LGG, MYB","x":0.466,"d":0.97},{"g":"LGG, MYB","x":0.503,"d":1.09},{"g":"LGG, MYB","x":0.541,"d":0.82},{"g":"LGG, MYB","x":0.579,"d":0.42},{"g":"LGG, MYB","x":0.624,"d":0.07},{"g":"LGG, MYB","x":0.673,"d":0},
{"g":"PXA","x":0.02,"d":0},{"g":"PXA","x":0.074,"d":0.12},{"g":"PXA","x":0.12,"d":0.62},{"g":"PXA","x":0.157,"d":1.31},{"g":"PXA","x":0.202,"d":1.83},{"g":"PXA","x":0.24,"d":1.61},{"g":"PXA","x":0.278,"d":1.22},{"g":"PXA","x":0.323,"d":0.82},{"g":"PXA","x":0.368,"d":0.62},{"g":"PXA","x":0.413,"d":0.42},{"g":"PXA","x":0.458,"d":0.17},{"g":"PXA","x":0.503,"d":0.04},{"g":"PXA","x":0.55,"d":0},
{"g":"PTPR, A","x":0.048,"d":0},{"g":"PTPR, A","x":0.105,"d":0.13},{"g":"PTPR, A","x":0.15,"d":0.38},{"g":"PTPR, A","x":0.18,"d":0.48},{"g":"PTPR, A","x":0.225,"d":0.33},{"g":"PTPR, A","x":0.255,"d":0.63},{"g":"PTPR, A","x":0.285,"d":1.62},{"g":"PTPR, A","x":0.311,"d":2.42},{"g":"PTPR, A","x":0.334,"d":2.67},{"g":"PTPR, A","x":0.36,"d":2.22},{"g":"PTPR, A","x":0.39,"d":1.32},{"g":"PTPR, A","x":0.428,"d":0.43},{"g":"PTPR, A","x":0.473,"d":0.13},{"g":"PTPR, A","x":0.533,"d":0.02},{"g":"PTPR, A","x":0.57,"d":0},
{"g":"PTPR, B","x":0.206,"d":0},{"g":"PTPR, B","x":0.263,"d":0.18},{"g":"PTPR, B","x":0.323,"d":0.78},{"g":"PTPR, B","x":0.368,"d":1.13},{"g":"PTPR, B","x":0.413,"d":1.27},{"g":"PTPR, B","x":0.458,"d":1.2},{"g":"PTPR, B","x":0.503,"d":1.08},{"g":"PTPR, B","x":0.556,"d":0.98},{"g":"PTPR, B","x":0.601,"d":0.78},{"g":"PTPR, B","x":0.646,"d":0.48},{"g":"PTPR, B","x":0.699,"d":0.13},{"g":"PTPR, B","x":0.761,"d":0},
{"g":"PIN T,\u00a0 PB A","x":0.133,"d":0},{"g":"PIN T,\u00a0 PB A","x":0.187,"d":0.14},{"g":"PIN T,\u00a0 PB A","x":0.232,"d":0.54},{"g":"PIN T,\u00a0 PB A","x":0.278,"d":0.84},{"g":"PIN T,\u00a0 PB A","x":0.323,"d":0.88},{"g":"PIN T,\u00a0 PB A","x":0.36,"d":1.42},{"g":"PIN T,\u00a0 PB A","x":0.394,"d":1.64},{"g":"PIN T,\u00a0 PB A","x":0.428,"d":1.22},{"g":"PIN T,\u00a0 PB A","x":0.466,"d":0.63},{"g":"PIN T,\u00a0 PB A","x":0.503,"d":0.53},{"g":"PIN T,\u00a0 PB A","x":0.549,"d":0.5},{"g":"PIN T,\u00a0 PB A","x":0.586,"d":0.47},{"g":"PIN T,\u00a0 PB A","x":0.624,"d":0.29},{"g":"PIN T,\u00a0 PB A","x":0.669,"d":0.09},{"g":"PIN T,\u00a0 PB A","x":0.722,"d":0},
{"g":"PIN T,\u00a0 PB B","x":0.131,"d":0},{"g":"PIN T,\u00a0 PB B","x":0.187,"d":0.14},{"g":"PIN T,\u00a0 PB B","x":0.232,"d":0.44},{"g":"PIN T,\u00a0 PB B","x":0.278,"d":0.59},{"g":"PIN T,\u00a0 PB B","x":0.323,"d":0.44},{"g":"PIN T,\u00a0 PB B","x":0.368,"d":0.24},{"g":"PIN T,\u00a0 PB B","x":0.428,"d":0.29},{"g":"PIN T,\u00a0 PB B","x":0.458,"d":0.64},{"g":"PIN T,\u00a0 PB B","x":0.488,"d":1.14},{"g":"PIN T,\u00a0 PB B","x":0.518,"d":1.24},{"g":"PIN T,\u00a0 PB B","x":0.556,"d":1.04},{"g":"PIN T,\u00a0 PB B","x":0.594,"d":0.89},{"g":"PIN T,\u00a0 PB B","x":0.639,"d":0.94},{"g":"PIN T,\u00a0 PB B","x":0.684,"d":0.69},{"g":"PIN T,\u00a0 PB B","x":0.729,"d":0.34},{"g":"PIN T,\u00a0 PB B","x":0.774,"d":0.14},{"g":"PIN T,\u00a0 PB B","x":0.819,"d":0.04},{"g":"PIN T,\u00a0 PB B","x":0.876,"d":0},
{"g":"PIN T, PPT","x":0.153,"d":0},{"g":"PIN T, PPT","x":0.217,"d":0.05},{"g":"PIN T, PPT","x":0.278,"d":0.25},{"g":"PIN T, PPT","x":0.323,"d":0.75},{"g":"PIN T, PPT","x":0.368,"d":1.3},{"g":"PIN T, PPT","x":0.413,"d":1.59},{"g":"PIN T, PPT","x":0.443,"d":1.59},{"g":"PIN T, PPT","x":0.488,"d":1.34},{"g":"PIN T, PPT","x":0.533,"d":0.95},{"g":"PIN T, PPT","x":0.579,"d":0.45},{"g":"PIN T, PPT","x":0.624,"d":0.1},{"g":"PIN T, PPT","x":0.684,"d":0},
{"g":"CHORDM","x":0.052,"d":0},{"g":"CHORDM","x":0.105,"d":0.15},{"g":"CHORDM","x":0.157,"d":0.65},{"g":"CHORDM","x":0.202,"d":1.15},{"g":"CHORDM","x":0.24,"d":1.54},{"g":"CHORDM","x":0.274,"d":1.69},{"g":"CHORDM","x":0.308,"d":1.44},{"g":"CHORDM","x":0.353,"d":0.75},{"g":"CHORDM","x":0.398,"d":0.3},{"g":"CHORDM","x":0.443,"d":0.45},{"g":"CHORDM","x":0.488,"d":0.7},{"g":"CHORDM","x":0.526,"d":0.45},{"g":"CHORDM","x":0.564,"d":0.1},{"g":"CHORDM","x":0.635,"d":0},
{"g":"EWS","x":0.063,"d":0},{"g":"EWS","x":0.127,"d":0.15},{"g":"EWS","x":0.18,"d":0.75},{"g":"EWS","x":0.225,"d":1.25},{"g":"EWS","x":0.278,"d":1.59},{"g":"EWS","x":0.323,"d":1.49},{"g":"EWS","x":0.368,"d":1.25},{"g":"EWS","x":0.406,"d":0.95},{"g":"EWS","x":0.45,"d":0.45},{"g":"EWS","x":0.496,"d":0.07},{"g":"EWS","x":0.541,"d":0},
{"g":"HMB","x":0.082,"d":0},{"g":"HMB","x":0.142,"d":0.11},{"g":"HMB","x":0.202,"d":0.28},{"g":"HMB","x":0.248,"d":0.26},{"g":"HMB","x":0.3,"d":0.21},{"g":"HMB","x":0.353,"d":0.51},{"g":"HMB","x":0.413,"d":0.71},{"g":"HMB","x":0.473,"d":0.81},{"g":"HMB","x":0.526,"d":0.96},{"g":"HMB","x":0.564,"d":1.18},{"g":"HMB","x":0.601,"d":1.33},{"g":"HMB","x":0.631,"d":1.21},{"g":"HMB","x":0.669,"d":0.66},{"g":"HMB","x":0.714,"d":0.21},{"g":"HMB","x":0.752,"d":0.04},{"g":"HMB","x":0.797,"d":0},
{"g":"MNG","x":0.039,"d":0},{"g":"MNG","x":0.127,"d":0.06},{"g":"MNG","x":0.217,"d":0.14},{"g":"MNG","x":0.293,"d":0.31},{"g":"MNG","x":0.368,"d":0.51},{"g":"MNG","x":0.428,"d":0.86},{"g":"MNG","x":0.473,"d":1.16},{"g":"MNG","x":0.515,"d":1.27},{"g":"MNG","x":0.556,"d":1.16},{"g":"MNG","x":0.601,"d":0.81},{"g":"MNG","x":0.646,"d":0.41},{"g":"MNG","x":0.692,"d":0.11},{"g":"MNG","x":0.761,"d":0},
{"g":"SFT HMPC","x":0.043,"d":0},{"g":"SFT HMPC","x":0.097,"d":0.12},{"g":"SFT HMPC","x":0.15,"d":0.37},{"g":"SFT HMPC","x":0.202,"d":0.87},{"g":"SFT HMPC","x":0.248,"d":1.36},{"g":"SFT HMPC","x":0.285,"d":1.66},{"g":"SFT HMPC","x":0.315,"d":1.71},{"g":"SFT HMPC","x":0.353,"d":1.46},{"g":"SFT HMPC","x":0.398,"d":0.97},{"g":"SFT HMPC","x":0.443,"d":0.42},{"g":"SFT HMPC","x":0.481,"d":0.12},{"g":"SFT HMPC","x":0.532,"d":0},
{"g":"EFT, CIC","x":0.059,"d":0},{"g":"EFT, CIC","x":0.112,"d":0.17},{"g":"EFT, CIC","x":0.157,"d":0.57},{"g":"EFT, CIC","x":0.187,"d":0.92},{"g":"EFT, CIC","x":0.232,"d":0.87},{"g":"EFT, CIC","x":0.293,"d":0.77},{"g":"EFT, CIC","x":0.353,"d":0.92},{"g":"EFT, CIC","x":0.413,"d":0.82},{"g":"EFT, CIC","x":0.473,"d":0.72},{"g":"EFT, CIC","x":0.533,"d":0.82},{"g":"EFT, CIC","x":0.571,"d":0.62},{"g":"EFT, CIC","x":0.616,"d":0.22},{"g":"EFT, CIC","x":0.654,"d":0.05},{"g":"EFT, CIC","x":0.695,"d":0},
{"g":"MELAN","x":0.005,"d":0},{"g":"MELAN","x":0.059,"d":0.13},{"g":"MELAN","x":0.105,"d":0.58},{"g":"MELAN","x":0.15,"d":0.98},{"g":"MELAN","x":0.187,"d":1.27},{"g":"MELAN","x":0.225,"d":1.67},{"g":"MELAN","x":0.248,"d":2.07},{"g":"MELAN","x":0.266,"d":2.14},{"g":"MELAN","x":0.293,"d":1.82},{"g":"MELAN","x":0.323,"d":1.18},{"g":"MELAN","x":0.353,"d":0.58},{"g":"MELAN","x":0.383,"d":0.18},{"g":"MELAN","x":0.42,"d":0.03},{"g":"MELAN","x":0.458,"d":0},
{"g":"MELCYT","x":0.238,"d":0},{"g":"MELCYT","x":0.293,"d":0.13},{"g":"MELCYT","x":0.338,"d":0.68},{"g":"MELCYT","x":0.379,"d":1.18},{"g":"MELCYT","x":0.413,"d":0.78},{"g":"MELCYT","x":0.458,"d":0.48},{"g":"MELCYT","x":0.503,"d":0.58},{"g":"MELCYT","x":0.549,"d":1.03},{"g":"MELCYT","x":0.597,"d":1.32},{"g":"MELCYT","x":0.639,"d":1.08},{"g":"MELCYT","x":0.684,"d":0.53},{"g":"MELCYT","x":0.729,"d":0.23},{"g":"MELCYT","x":0.774,"d":0.08},{"g":"MELCYT","x":0.84,"d":0},
{"g":"MCF_PLEX_T","x":-0.017,"d":0},{"g":"MCF_PLEX_T","x":0.052,"d":0.08},{"g":"MCF_PLEX_T","x":0.127,"d":0.23},{"g":"MCF_PLEX_T","x":0.202,"d":0.3},{"g":"MCF_PLEX_T","x":0.263,"d":0.58},{"g":"MCF_PLEX_T","x":0.323,"d":0.83},{"g":"MCF_PLEX_T","x":0.383,"d":1.13},{"g":"MCF_PLEX_T","x":0.436,"d":1.32},{"g":"MCF_PLEX_T","x":0.481,"d":1.13},{"g":"MCF_PLEX_T","x":0.533,"d":0.68},{"g":"MCF_PLEX_T","x":0.579,"d":0.28},{"g":"MCF_PLEX_T","x":0.624,"d":0.08},{"g":"MCF_PLEX_T","x":0.722,"d":0},
{"g":"MCF_IDH_GLM","x":0.187,"d":0},{"g":"MCF_IDH_GLM","x":0.278,"d":0.09},{"g":"MCF_IDH_GLM","x":0.353,"d":0.16},{"g":"MCF_IDH_GLM","x":0.42,"d":0.21},{"g":"MCF_IDH_GLM","x":0.496,"d":0.14},{"g":"MCF_IDH_GLM","x":0.564,"d":0.24},{"g":"MCF_IDH_GLM","x":0.624,"d":0.44},{"g":"MCF_IDH_GLM","x":0.684,"d":0.69},{"g":"MCF_IDH_GLM","x":0.729,"d":1.04},{"g":"MCF_IDH_GLM","x":0.774,"d":1.48},{"g":"MCF_IDH_GLM","x":0.812,"d":1.61},{"g":"MCF_IDH_GLM","x":0.85,"d":1.24},{"g":"MCF_IDH_GLM","x":0.887,"d":0.64},{"g":"MCF_IDH_GLM","x":0.932,"d":0.19},{"g":"MCF_IDH_GLM","x":0.97,"d":0.04},{"g":"MCF_IDH_GLM","x":1.008,"d":0},
{"g":"LYMPHO","x":0.442,"d":0},{"g":"LYMPHO","x":0.503,"d":0.14},{"g":"LYMPHO","x":0.556,"d":0.49},{"g":"LYMPHO","x":0.609,"d":0.89},{"g":"LYMPHO","x":0.661,"d":1.04},{"g":"LYMPHO","x":0.707,"d":1.04},{"g":"LYMPHO","x":0.752,"d":0.84},{"g":"LYMPHO","x":0.8,"d":0.54},{"g":"LYMPHO","x":0.842,"d":1.09},{"g":"LYMPHO","x":0.88,"d":1.38},{"g":"LYMPHO","x":0.91,"d":0.94},{"g":"LYMPHO","x":0.947,"d":0.29},{"g":"LYMPHO","x":0.985,"d":0.04},{"g":"LYMPHO","x":1.024,"d":0},
{"g":"PLASMA","x":0.15,"d":0},{"g":"PLASMA","x":0.202,"d":0.1},{"g":"PLASMA","x":0.248,"d":0.45},{"g":"PLASMA","x":0.308,"d":0.67},{"g":"PLASMA","x":0.36,"d":0.45},{"g":"PLASMA","x":0.413,"d":0.13},{"g":"PLASMA","x":0.458,"d":0.05},{"g":"PLASMA","x":0.503,"d":0.2},{"g":"PLASMA","x":0.549,"d":0.95},{"g":"PLASMA","x":0.601,"d":1.35},{"g":"PLASMA","x":0.654,"d":1.59},{"g":"PLASMA","x":0.684,"d":1.35},{"g":"PLASMA","x":0.722,"d":0.65},{"g":"PLASMA","x":0.759,"d":0.2},{"g":"PLASMA","x":0.825,"d":0},
{"g":"CONTR, ADENOPIT","x":0.088,"d":0},{"g":"CONTR, ADENOPIT","x":0.142,"d":0.15},{"g":"CONTR, ADENOPIT","x":0.202,"d":0.4},{"g":"CONTR, ADENOPIT","x":0.255,"d":0.25},{"g":"CONTR, ADENOPIT","x":0.308,"d":0.3},{"g":"CONTR, ADENOPIT","x":0.36,"d":0.42},{"g":"CONTR, ADENOPIT","x":0.42,"d":0.25},{"g":"CONTR, ADENOPIT","x":0.458,"d":0.65},{"g":"CONTR, ADENOPIT","x":0.496,"d":1.44},{"g":"CONTR, ADENOPIT","x":0.526,"d":1.94},{"g":"CONTR, ADENOPIT","x":0.556,"d":1.69},{"g":"CONTR, ADENOPIT","x":0.594,"d":1.15},{"g":"CONTR, ADENOPIT","x":0.639,"d":0.8},{"g":"CONTR, ADENOPIT","x":0.684,"d":0.35},{"g":"CONTR, ADENOPIT","x":0.729,"d":0.05},{"g":"CONTR, ADENOPIT","x":0.77,"d":0},
{"g":"CONTR, CEBM","x":0.123,"d":0},{"g":"CONTR, CEBM","x":0.172,"d":0.15},{"g":"CONTR, CEBM","x":0.217,"d":0.65},{"g":"CONTR, CEBM","x":0.248,"d":1.05},{"g":"CONTR, CEBM","x":0.274,"d":1.2},{"g":"CONTR, CEBM","x":0.308,"d":0.9},{"g":"CONTR, CEBM","x":0.353,"d":0.53},{"g":"CONTR, CEBM","x":0.413,"d":0.67},{"g":"CONTR, CEBM","x":0.458,"d":0.6},{"g":"CONTR, CEBM","x":0.503,"d":0.5},{"g":"CONTR, CEBM","x":0.541,"d":0.8},{"g":"CONTR, CEBM","x":0.582,"d":1.3},{"g":"CONTR, CEBM","x":0.616,"d":0.85},{"g":"CONTR, CEBM","x":0.654,"d":0.35},{"g":"CONTR, CEBM","x":0.692,"d":0.08},{"g":"CONTR, CEBM","x":0.72,"d":0},
{"g":"CONTR, HEMI","s":1,"x":-0.014,"d":0},{"g":"CONTR, HEMI","s":1,"x":0.04,"d":0.06},{"g":"CONTR, HEMI","s":1,"x":0.08,"d":0.2},{"g":"CONTR, HEMI","s":1,"x":0.105,"d":0.27},{"g":"CONTR, HEMI","s":1,"x":0.14,"d":0.2},{"g":"CONTR, HEMI","s":1,"x":0.18,"d":0.06},{"g":"CONTR, HEMI","s":1,"x":0.235,"d":0},
{"g":"CONTR, HEMI","s":2,"x":0.274,"d":0},{"g":"CONTR, HEMI","s":2,"x":0.338,"d":0.1},{"g":"CONTR, HEMI","s":2,"x":0.383,"d":0.3},{"g":"CONTR, HEMI","s":2,"x":0.428,"d":0.5},{"g":"CONTR, HEMI","s":2,"x":0.473,"d":0.65},{"g":"CONTR, HEMI","s":2,"x":0.533,"d":0.55},{"g":"CONTR, HEMI","s":2,"x":0.594,"d":0.65},{"g":"CONTR, HEMI","s":2,"x":0.639,"d":1.25},{"g":"CONTR, HEMI","s":2,"x":0.676,"d":1.49},{"g":"CONTR, HEMI","s":2,"x":0.707,"d":1.52},{"g":"CONTR, HEMI","s":2,"x":0.744,"d":1.25},{"g":"CONTR, HEMI","s":2,"x":0.789,"d":0.7},{"g":"CONTR, HEMI","s":2,"x":0.834,"d":0.2},{"g":"CONTR, HEMI","s":2,"x":0.865,"d":0.05},{"g":"CONTR, HEMI","s":2,"x":0.895,"d":0},
{"g":"CONTR, HYPTHAL","x":0.235,"d":0},{"g":"CONTR, HYPTHAL","x":0.285,"d":0.18},{"g":"CONTR, HYPTHAL","x":0.323,"d":0.68},{"g":"CONTR, HYPTHAL","x":0.368,"d":1.18},{"g":"CONTR, HYPTHAL","x":0.413,"d":1.42},{"g":"CONTR, HYPTHAL","x":0.45,"d":1.67},{"g":"CONTR, HYPTHAL","x":0.488,"d":1.99},{"g":"CONTR, HYPTHAL","x":0.518,"d":1.77},{"g":"CONTR, HYPTHAL","x":0.549,"d":1.08},{"g":"CONTR, HYPTHAL","x":0.586,"d":0.38},{"g":"CONTR, HYPTHAL","x":0.624,"d":0.08},{"g":"CONTR, HYPTHAL","x":0.673,"d":0},
{"g":"CONTR, INFLAM","x":0.2,"d":0},{"g":"CONTR, INFLAM","x":0.263,"d":0.13},{"g":"CONTR, INFLAM","x":0.323,"d":0.3},{"g":"CONTR, INFLAM","x":0.375,"d":0.33},{"g":"CONTR, INFLAM","x":0.428,"d":0.18},{"g":"CONTR, INFLAM","x":0.488,"d":0.08},{"g":"CONTR, INFLAM","x":0.549,"d":0.15},{"g":"CONTR, INFLAM","x":0.609,"d":0.25},{"g":"CONTR, INFLAM","x":0.661,"d":0.32},{"g":"CONTR, INFLAM","x":0.707,"d":0.45},{"g":"CONTR, INFLAM","x":0.759,"d":0.98},{"g":"CONTR, INFLAM","x":0.804,"d":1.42},{"g":"CONTR, INFLAM","x":0.842,"d":1.77},{"g":"CONTR, INFLAM","x":0.865,"d":1.85},{"g":"CONTR, INFLAM","x":0.895,"d":1.57},{"g":"CONTR, INFLAM","x":0.932,"d":0.78},{"g":"CONTR, INFLAM","x":0.97,"d":0.18},{"g":"CONTR, INFLAM","x":1.029,"d":0},
{"g":"CONTR, PINEAL","x":0.189,"d":0},{"g":"CONTR, PINEAL","x":0.248,"d":0.13},{"g":"CONTR, PINEAL","x":0.3,"d":0.28},{"g":"CONTR, PINEAL","x":0.338,"d":0.28},{"g":"CONTR, PINEAL","x":0.391,"d":0.33},{"g":"CONTR, PINEAL","x":0.458,"d":0.48},{"g":"CONTR, PINEAL","x":0.518,"d":0.58},{"g":"CONTR, PINEAL","x":0.564,"d":0.88},{"g":"CONTR, PINEAL","x":0.609,"d":1.27},{"g":"CONTR, PINEAL","x":0.654,"d":1.57},{"g":"CONTR, PINEAL","x":0.684,"d":1.47},{"g":"CONTR, PINEAL","x":0.722,"d":0.98},{"g":"CONTR, PINEAL","x":0.767,"d":0.33},{"g":"CONTR, PINEAL","x":0.804,"d":0.06},{"g":"CONTR, PINEAL","x":0.853,"d":0},
{"g":"CONTR, PONS","x":0.037,"d":0},{"g":"CONTR, PONS","x":0.097,"d":0.13},{"g":"CONTR, PONS","x":0.157,"d":0.33},{"g":"CONTR, PONS","x":0.21,"d":0.13},{"g":"CONTR, PONS","x":0.255,"d":0.13},{"g":"CONTR, PONS","x":0.293,"d":0.5},{"g":"CONTR, PONS","x":0.323,"d":1.1},{"g":"CONTR, PONS","x":0.353,"d":1.65},{"g":"CONTR, PONS","x":0.383,"d":2.02},{"g":"CONTR, PONS","x":0.398,"d":2.07},{"g":"CONTR, PONS","x":0.428,"d":1.72},{"g":"CONTR, PONS","x":0.466,"d":1.08},{"g":"CONTR, PONS","x":0.503,"d":0.63},{"g":"CONTR, PONS","x":0.549,"d":0.28},{"g":"CONTR, PONS","x":0.594,"d":0.08},{"g":"CONTR, PONS","x":0.648,"d":0},
{"g":"CONTR, REACT","x":0.102,"d":0},{"g":"CONTR, REACT","x":0.157,"d":0.18},{"g":"CONTR, REACT","x":0.202,"d":0.58},{"g":"CONTR, REACT","x":0.24,"d":1.18},{"g":"CONTR, REACT","x":0.27,"d":1.67},{"g":"CONTR, REACT","x":0.3,"d":1.82},{"g":"CONTR, REACT","x":0.338,"d":1.52},{"g":"CONTR, REACT","x":0.375,"d":1.27},{"g":"CONTR, REACT","x":0.42,"d":1.22},{"g":"CONTR, REACT","x":0.458,"d":0.73},{"g":"CONTR, REACT","x":0.496,"d":0.28},{"g":"CONTR, REACT","x":0.533,"d":0.1},{"g":"CONTR, REACT","x":0.58,"d":0.03},{"g":"CONTR, REACT","x":0.62,"d":0},
{"g":"CONTR, WM","x":0.347,"d":0},{"g":"CONTR, WM","x":0.398,"d":0.2},{"g":"CONTR, WM","x":0.443,"d":0.7},{"g":"CONTR, WM","x":0.488,"d":1.15},{"g":"CONTR, WM","x":0.518,"d":1.25},{"g":"CONTR, WM","x":0.556,"d":1.22},{"g":"CONTR, WM","x":0.609,"d":1.35},{"g":"CONTR, WM","x":0.654,"d":1.3},{"g":"CONTR, WM","x":0.699,"d":1.1},{"g":"CONTR, WM","x":0.737,"d":0.7},{"g":"CONTR, WM","x":0.782,"d":0.2},{"g":"CONTR, WM","x":0.819,"d":0.05},{"g":"CONTR, WM","x":0.857,"d":0}
]},
"facet":{"row":{"field":"g","type":"nominal","title":null,
"sort":["ETMR","MCF_MB_G3G4","MB, WNT","MCF_MB_SHH","MCF_ATRT","CNS NB, FOXR2","HGNET, BCOR","DMG, K27","GBM, G34","MCF_GBM","CN","DLGNT","LIPN","LGG, DIG/DIA","LGG, DNT","LGG, RGNT","RETB","MCF_ENB_nC","PGG, nC","LGG, GG","SCHW","SCHW, MEL","CPH, ADM","CPH, PAP","PITAD, ACTH","PITAD, FSH LH","PITAD, PRL","PITAD, STH SPA","PITAD, TSH","PITAD, STH DNS A","PITAD, STH DNS B","PITUI, SCO, GCT","EPN, RELA","EPN, PF A","EPN, PF B","EPN, SPINE","EPN, YAP","EPN, MPE","SUBEPN, PF","SUBEPN, SPINE","SUBEPN, ST","CHGL","LGG, SEGA","MCF_PA","ANA PA","HGNET, MN1","IHG","LGG, MYB","PXA","PTPR, A","PTPR, B","PIN T,\u00a0 PB A","PIN T,\u00a0 PB B","PIN T, PPT","CHORDM","EWS","HMB","MNG","SFT HMPC","EFT, CIC","MELAN","MELCYT","MCF_PLEX_T","MCF_IDH_GLM","LYMPHO","PLASMA","CONTR, ADENOPIT","CONTR, CEBM","CONTR, HEMI","CONTR, HYPTHAL","CONTR, INFLAM","CONTR, PINEAL","CONTR, PONS","CONTR, REACT","CONTR, WM"],
"header":{"labelAngle":0,"labelAlign":"left","labelAnchor":"start","labelBaseline":"alphabetic","labelFont":"Liberation Sans","labelFontSize":33,"labelPadding":33,"labelColor":{"expr":"scale('fill', parent.g)"}}}},
"spec":{
"width":2388,"height":33,
"layer":[
{"mark":{"type":"area","interpolate":"monotone"},
"encoding":{
"x":{"field":"x","type":"quantitative","scale":{"domain":[-0.102,1.082],"nice":false,"zero":false},
"axis":{"values":[0,0.1,0.2,0.3,0.4,0.5,0.6,0.7,0.8,0.9,1.0],"format":".1f","grid":true,"gridColor":"#ebebeb","gridWidth":1.5,"ticks":true,"tickSize":34,"tickColor":"#ebebeb","tickWidth":1.5,"domain":false,"title":null,"labelFont":"Liberation Sans","labelFontSize":53,"labelColor":"#000000","labelPadding":31,"labelOverlap":false}},
"y":{"field":"d","type":"quantitative","scale":{"domain":[0,0.986],"nice":false},
"axis":{"values":[0],"grid":true,"gridColor":"#e6e6e6","gridWidth":2.5,"labels":false,"ticks":false,"domain":false,"title":null}},
"fill":{"field":"g","type":"nominal","legend":null,
"scale":{"domain":["ETMR","MCF_MB_G3G4","MB, WNT","MCF_MB_SHH","MCF_ATRT","CNS NB, FOXR2","HGNET, BCOR","DMG, K27","GBM, G34","MCF_GBM","CN","DLGNT","LIPN","LGG, DIG/DIA","LGG, DNT","LGG, RGNT","RETB","MCF_ENB_nC","PGG, nC","LGG, GG","SCHW","SCHW, MEL","CPH, ADM","CPH, PAP","PITAD, ACTH","PITAD, FSH LH","PITAD, PRL","PITAD, STH SPA","PITAD, TSH","PITAD, STH DNS A","PITAD, STH DNS B","PITUI, SCO, GCT","EPN, RELA","EPN, PF A","EPN, PF B","EPN, SPINE","EPN, YAP","EPN, MPE","SUBEPN, PF","SUBEPN, SPINE","SUBEPN, ST","CHGL","LGG, SEGA","MCF_PA","ANA PA","HGNET, MN1","IHG","LGG, MYB","PXA","PTPR, A","PTPR, B","PIN T,\u00a0 PB A","PIN T,\u00a0 PB B","PIN T, PPT","CHORDM","EWS","HMB","MNG","SFT HMPC","EFT, CIC","MELAN","MELCYT","MCF_PLEX_T","MCF_IDH_GLM","LYMPHO","PLASMA","CONTR, ADENOPIT","CONTR, CEBM","CONTR, HEMI","CONTR, HYPTHAL","CONTR, INFLAM","CONTR, PINEAL","CONTR, PONS","CONTR, REACT","CONTR, WM"],
"range":["#1B91D6","#009BE5","#6FA5D9","#A0C4F2","#8CC0FF","#4E8AC8","#7097C2","#A3EE85","#56BC50","#48E846","#B35400","#CE7038","#DD7B2E","#CC4E00","#C24F14","#F39246","#FA9A56","#A44A1C","#F38520","#E07040","#FDDFAA","#F4C68A","#72D4C4","#43DAD6","#147A6F","#489E92","#06B2A8","#46CCBE","#12D6C4","#02C4BE","#14C6CC","#5CD9DC","#D24D4C","#E0004A","#DB3957","#FE0545","#FF5468","#B20F37","#DC002B","#FD3A42","#FF3E58","#B080E8","#A76BEE","#B690DD","#704AA6","#AA98C4","#D0BCDC","#8D56DB","#7844C6","#ADDD8A","#BBFF9A","#CDF3AE","#B5DA96","#AEF598","#FA8EF9","#CA64E6","#E654F8","#D265D8","#FF6BFF","#945B9E","#0B3F68","#102843","#9D5A20","#DCCB0C","#3E1C45","#672C66","#D5D5D5","#C2C2C2","#A0A0A0","#7C7C7C","#DADADA","#6A6A6A","#505050","#D3D3D3","#A6A6A6"]}},
"detail":{"field":"s","type":"nominal"}}},
{"mark":{"type":"line","interpolate":"monotone","color":"#111111","strokeWidth":2,"strokeJoin":"round"},
"encoding":{
"x":{"field":"x","type":"quantitative",
"axis":{"orient":"top","values":[0,0.1,0.2,0.3,0.4,0.5,0.6,0.7,0.8,0.9,1.0],"labels":false,"ticks":true,"tickSize":24,"tickColor":"#ebebeb","tickWidth":1.5,"grid":false,"domain":false,"title":null}},
"y":{"field":"d","type":"quantitative"},
"detail":{"field":"s","type":"nominal"}}}
],
"resolve":{"axis":{"x":"independent"}}},
"config":{"view":{"stroke":null},"facet":{"spacing":0}}
}
